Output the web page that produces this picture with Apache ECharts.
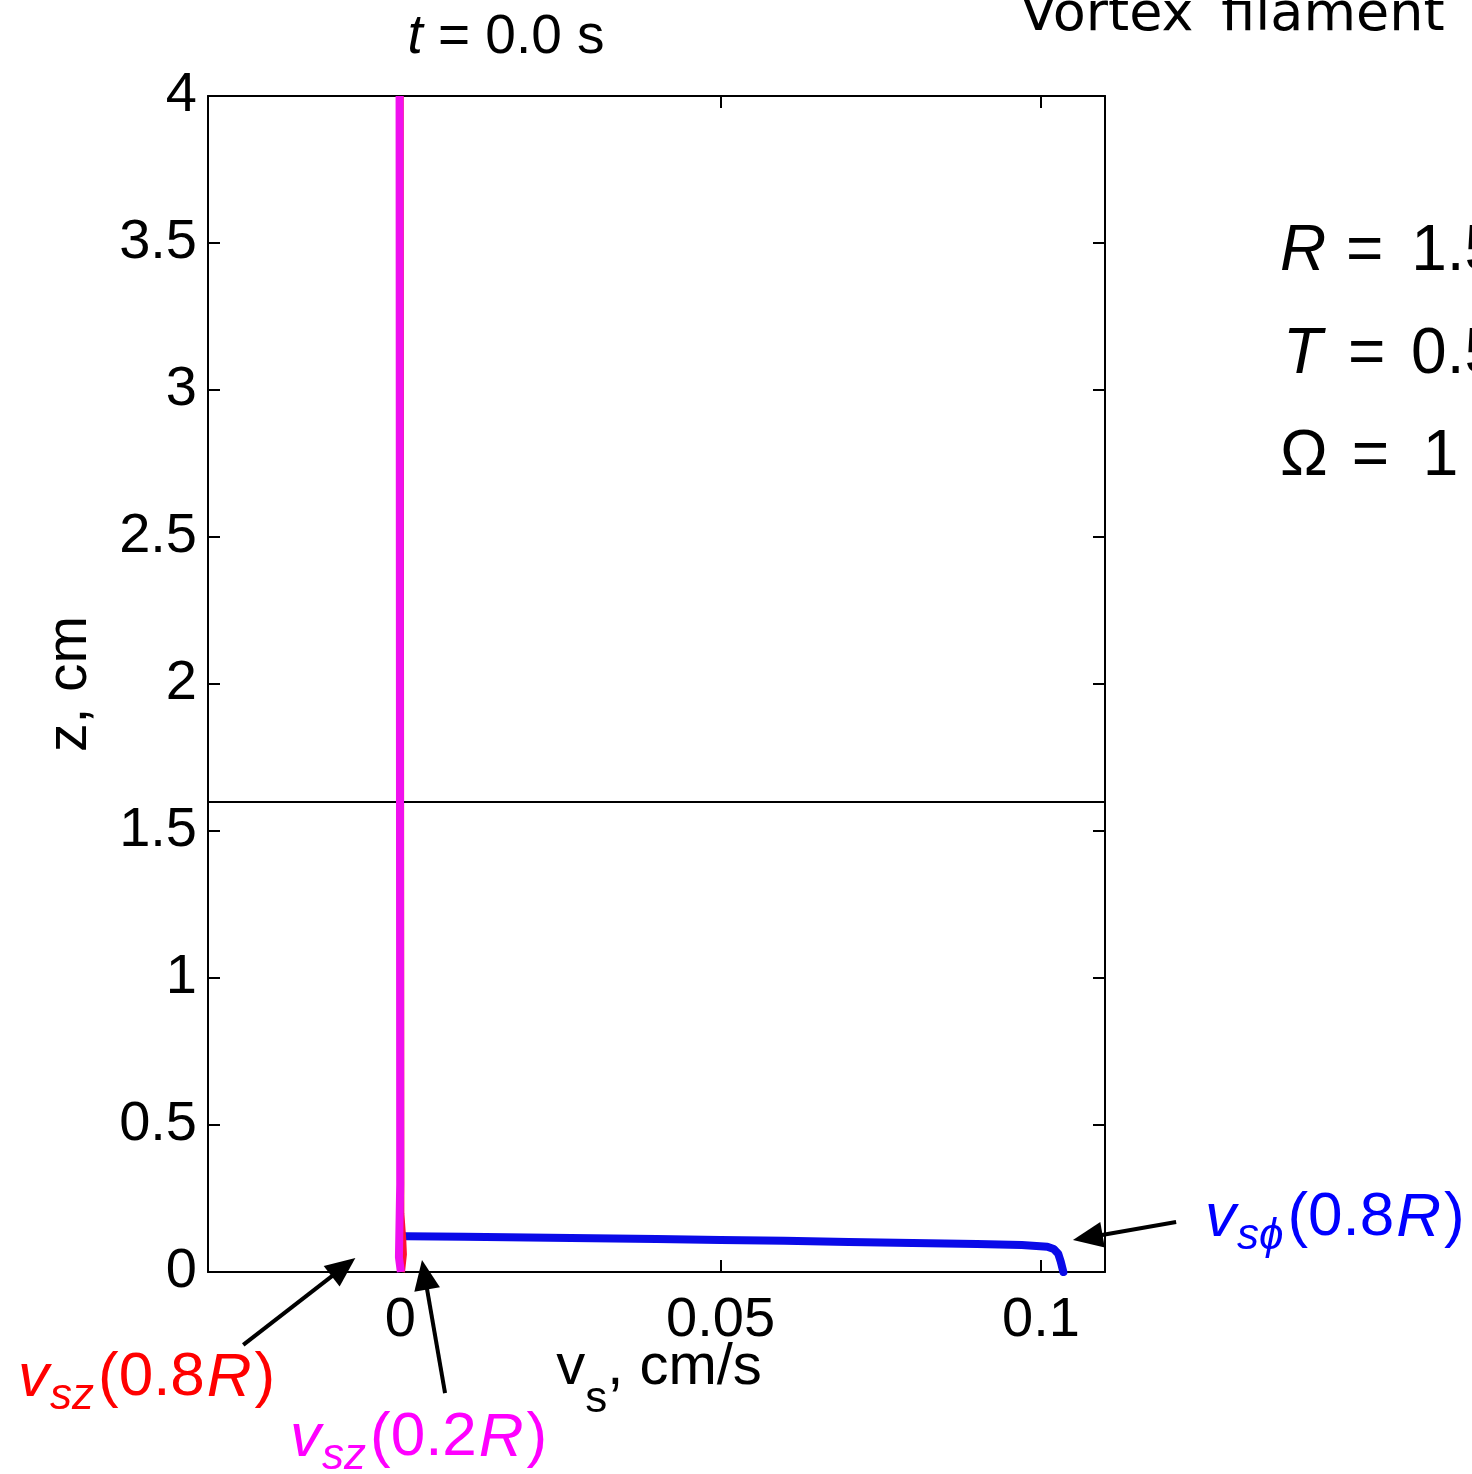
<!DOCTYPE html>
<html>
<head>
<meta charset="utf-8">
<script src="https://cdn.jsdelivr.net/npm/echarts@6/dist/echarts.min.js"></script>
<style>
html,body{margin:0;padding:0;background:#fff;}
#chart{width:1472px;height:1474px;}
</style>
</head>
<body>
<div id="chart"></div>
<script>
// ---- data ----
const xTickValues = [0, 0.05, 0.1];
const xTickLabels = ['0', '0.05', '0.1'];
const yTickValues = [0, 0.5, 1, 1.5, 2, 2.5, 3, 3.5, 4];
const yTickLabels = ['0', '0.5', '1', '1.5', '2', '2.5', '3', '3.5', '4'];

// v_s_phi(0.8R) (blue)
const bluePhiVs = [0, 0.001, 0.01, 0.02, 0.03, 0.04, 0.05, 0.06, 0.07, 0.08, 0.09, 0.097, 0.1010, 0.1020, 0.1027, 0.1031, 0.1035];
const bluePhiZ  = [0.122, 0.122, 0.120, 0.117, 0.115, 0.112, 0.109, 0.106, 0.102, 0.099, 0.095, 0.092, 0.086, 0.078, 0.062, 0.035, 0.0];
// v_sz(0.8R) (red)
const redSzVs = [0.0002, 0.0005, 0.0004, 0.0001, 0.0];
const redSzZ  = [0.0, 0.06, 0.11, 0.2, 4.0];
// v_sz(0.2R) (magenta)
const magSzVs = [0.0001, -0.0002, 0.0, -0.0001];
const magSzZ  = [0.0, 0.05, 0.3, 4.0];
// horizontal reference line (filament marker)
const refLineZ = 1.6;

// ---- helpers ----
const FONT = '"Liberation Sans", Arial, Helvetica, sans-serif';
const mctx = document.createElement('canvas').getContext('2d');
function fontStr(size, italic) { return (italic ? 'italic ' : '') + size + 'px ' + FONT; }
function measure(t, size, italic) { mctx.font = fontStr(size, italic); return mctx.measureText(t).width; }
// multi-part text on a common baseline; parts: {t, s, it, dy, dx}
function mathText(x, baseline, parts, color, align) {
  let total = 0;
  parts.forEach(p => { total += measure(p.t, p.s, p.it) + (p.dx || 0); });
  let cx = align === 'center' ? x - total / 2 : x;
  const els = [];
  parts.forEach(p => {
    cx += (p.dx || 0);
    const w = measure(p.t, p.s, p.it);
    els.push({
      type: 'text', x: cx, y: baseline + (p.dy || 0) - 0.35 * p.s, silent: true,
      style: { text: p.t, fill: color, font: fontStr(p.s, p.it), align: 'left', verticalAlign: 'middle' }
    });
    cx += w;
  });
  return els;
}

const chart = echarts.init(document.getElementById('chart'), null, { renderer: 'canvas' });

function toPairs(xs, ys) { return xs.map((v, i) => [v, ys[i]]); }

const axisLineStyle = { color: '#000', width: 2 };
const option = {
  backgroundColor: '#fff',
  animation: false,
  grid: { left: 208, right: 367, top: 96, bottom: 202, containLabel: false, outerBoundsMode: 'none' },
  xAxis: [
    {
      type: 'value', position: 'bottom', min: -0.03, max: 0.11,
      axisLine: { show: true, onZero: false, lineStyle: axisLineStyle },
      axisTick: { show: true, inside: true, length: 12, customValues: xTickValues, lineStyle: { color: '#000', width: 2 } },
      axisLabel: { show: true, customValues: xTickValues, margin: 21, color: '#000', fontSize: 56, fontFamily: FONT,
        formatter: v => { const i = xTickValues.findIndex(t => Math.abs(t - v) < 1e-9); return i >= 0 ? xTickLabels[i] : ''; } },
      splitLine: { show: false }
    },
    {
      type: 'value', position: 'top', min: -0.03, max: 0.11,
      axisLine: { show: true, onZero: false, lineStyle: axisLineStyle },
      axisTick: { show: true, inside: true, length: 12, customValues: xTickValues, lineStyle: { color: '#000', width: 2 } },
      axisLabel: { show: false },
      splitLine: { show: false }
    }
  ],
  yAxis: [
    {
      type: 'value', position: 'left', min: 0, max: 4, interval: 0.5,
      axisLine: { show: true, onZero: false, lineStyle: axisLineStyle },
      axisTick: { show: true, inside: true, length: 12, lineStyle: { color: '#000', width: 2 } },
      axisLabel: { show: true, margin: 11, color: '#000', fontSize: 56, fontFamily: FONT,
        formatter: v => { const i = yTickValues.findIndex(t => Math.abs(t - v) < 1e-9); return i >= 0 ? yTickLabels[i] : ''; } },
      splitLine: { show: false }
    },
    {
      type: 'value', position: 'right', min: 0, max: 4, interval: 0.5,
      axisLine: { show: true, onZero: false, lineStyle: axisLineStyle },
      axisTick: { show: true, inside: true, length: 12, lineStyle: { color: '#000', width: 2 } },
      axisLabel: { show: false },
      splitLine: { show: false }
    }
  ],
  series: [
    {
      name: 'vsphi08R', type: 'line', xAxisIndex: 0, yAxisIndex: 0, showSymbol: false, smooth: false,
      data: toPairs(bluePhiVs, bluePhiZ),
      lineStyle: { color: '#0a0ae8', width: 8, cap: 'round', join: 'round' },
      markLine: {
        silent: true, symbol: 'none', label: { show: false },
        lineStyle: { color: '#000', width: 2, type: 'solid' },
        data: [{ yAxis: refLineZ }]
      },
      z: 3
    },
    {
      name: 'vsz08R', type: 'line', xAxisIndex: 0, yAxisIndex: 0, showSymbol: false,
      data: toPairs(redSzVs, redSzZ),
      lineStyle: { color: '#ff1030', width: 7 },
      z: 4
    },
    {
      name: 'vsz02R', type: 'line', xAxisIndex: 0, yAxisIndex: 0, showSymbol: false,
      data: toPairs(magSzVs, magSzZ),
      lineStyle: { color: '#f010ee', width: 8 },
      z: 5
    }
  ]
};
chart.setOption(option);

// ---- annotations (arrows anchored in data space) ----
const annotations = [
  { tip: [0.105, 0.109], tail: [0.1211, 0.170] },      // blue
  { tip: [-0.0070, 0.048], tail: [-0.0245, -0.248] },  // red
  { tip: [0.0034, 0.041], tail: [0.0070, -0.412] }     // magenta
];
const graphics = [];
annotations.forEach(a => {
  const p1 = chart.convertToPixel({ xAxisIndex: 0, yAxisIndex: 0 }, a.tail);
  const p2 = chart.convertToPixel({ xAxisIndex: 0, yAxisIndex: 0 }, a.tip);
  const dx = p2[0] - p1[0], dy = p2[1] - p1[1];
  const len = Math.sqrt(dx * dx + dy * dy);
  const ux = dx / len, uy = dy / len;
  const headL = 30, headW = 13;
  const bx = p2[0] - ux * headL, by = p2[1] - uy * headL;
  graphics.push({ type: 'line', silent: true, shape: { x1: p1[0], y1: p1[1], x2: bx + ux * 2, y2: by + uy * 2 },
    style: { stroke: '#000', lineWidth: 4 } });
  graphics.push({ type: 'polygon', silent: true,
    shape: { points: [[p2[0], p2[1]], [bx - uy * headW, by + ux * headW], [bx + uy * headW, by - ux * headW]] },
    style: { fill: '#000' } });
});

// title t = 0.0 s
graphics.push(...mathText(506, 57, [
  { t: 't', s: 55, it: true }, { t: ' = 0.0 s', s: 55 }
], '#000', 'center'));

// x axis name v_s, cm/s
graphics.push(...mathText(659, 1388, [
  { t: 'v', s: 58 }, { t: 's', s: 44, dy: 27 }, { t: ', cm/s', s: 58 }
], '#000', 'center'));

// y axis name z, cm (rotated)
graphics.push({ type: 'text', x: 70, y: 684, rotation: Math.PI / 2, silent: true,
  style: { text: 'z, cm', fill: '#000', font: fontStr(57, false), align: 'center', verticalAlign: 'middle' } });

// top-right header (clipped by the canvas edge)
graphics.push({ type: 'text', x: 1020, y: 16, silent: true,
  style: { text: 'Vortex\u2009 filament', fill: '#000', font: '54px "DejaVu Sans", sans-serif', align: 'left', verticalAlign: 'middle' } });

// parameters
graphics.push(...mathText(1280, 275, [{ t: 'R', s: 64, it: true }, { t: ' = ', s: 64, dx: 2 }, { t: '1.5 cm', s: 64, dx: 10 }], '#000', 'left'));
graphics.push(...mathText(1283, 378, [{ t: 'T', s: 64, it: true }, { t: ' = ', s: 64, dx: 8 }, { t: '0.5 K', s: 64, dx: 8 }], '#000', 'left'));
graphics.push(...mathText(1280, 480, [{ t: '\u03A9', s: 64 }, { t: ' = ', s: 64, dx: 6 }, { t: '1 rad/s', s: 64, dx: 16 }], '#000', 'left'));

// curve labels
graphics.push(...mathText(1205, 1240, [
  { t: 'v', s: 62, it: true }, { t: 's\u03D5', s: 44, it: true, dy: 12, dx: 1 },
  { t: '(0.8', s: 62, dx: 4 }, { t: 'R', s: 62, it: true, dx: 2 }, { t: ')', s: 62, dx: 3 }
], '#0000ff', 'left'));
graphics.push(...mathText(18, 1400, [
  { t: 'v', s: 62, it: true }, { t: 'sz', s: 44, it: true, dy: 12, dx: 1 },
  { t: '(0.8', s: 62, dx: 4 }, { t: 'R', s: 62, it: true, dx: 2 }, { t: ')', s: 62, dx: 3 }
], '#ff0000', 'left'));
graphics.push(...mathText(290, 1460, [
  { t: 'v', s: 62, it: true }, { t: 'sz', s: 44, it: true, dy: 12, dx: 1 },
  { t: '(0.2', s: 62, dx: 4 }, { t: 'R', s: 62, it: true, dx: 2 }, { t: ')', s: 62, dx: 3 }
], '#ff00ff', 'left'));

chart.setOption({ graphic: graphics });
</script>
</body>
</html>
